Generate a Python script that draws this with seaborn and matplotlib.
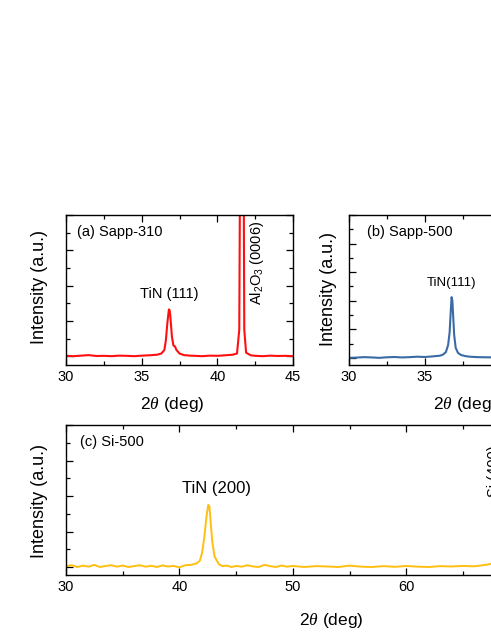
import numpy as np
import seaborn as sns
import matplotlib.pyplot as plt
from matplotlib.ticker import MultipleLocator

# (a) Sapp-310 : 2theta (deg) and intensity (a.u.)
a_theta = [30.0, 30.5, 31.0, 31.5, 32.0, 32.5, 33.0, 33.5, 34.0, 34.5, 35.0, 35.5,
           36.0, 36.3, 36.5, 36.6, 36.7, 36.8, 36.85, 36.9, 37.0, 37.1, 37.2, 37.3,
           37.5, 37.8, 38.2, 38.5, 39.0, 39.5, 40.0, 40.5, 41.0, 41.3, 41.45, 41.55,
           41.6, 41.65, 41.7, 41.78, 41.9, 42.2, 42.5, 43.0, 43.5, 44.0, 44.5, 45.0]
a_int = [0.02, 0.0, 0.03, 0.06, 0.01, 0.02, 0.0, 0.03, 0.02, 0.0, 0.03, 0.05,
         0.08, 0.15, 0.35, 0.9, 1.9, 2.65, 2.6, 2.2, 1.1, 0.6, 0.55, 0.35,
         0.15, 0.06, 0.03, 0.02, 0.0, 0.03, 0.02, 0.05, 0.08, 0.15, 1.5, 20.0,
         30.0, 30.0, 20.0, 1.5, 0.2, 0.05, 0.02, 0.0, 0.03, 0.01, 0.02, 0.0]

# (b) Sapp-500
b_theta = [30.0, 30.5, 31.0, 31.5, 32.0, 32.5, 33.0, 33.5, 34.0, 34.5, 35.0, 35.5,
           36.0, 36.2, 36.4, 36.55, 36.65, 36.72, 36.78, 36.83, 36.88, 36.95, 37.05,
           37.2, 37.4, 37.7, 38.0, 38.5, 39.0, 40.0, 41.0, 41.5, 41.65, 41.8, 42.5,
           43.5, 45.0]
b_int = [0.0, 0.02, 0.05, 0.03, 0.0, 0.04, 0.06, 0.03, 0.05, 0.08, 0.06, 0.1,
         0.15, 0.22, 0.4, 0.9, 1.8, 3.2, 4.25, 4.0, 3.0, 1.6, 0.7,
         0.35, 0.2, 0.12, 0.08, 0.05, 0.04, 0.03, 0.05, 2.0, 30.0, 2.0, 0.05,
         0.02, 0.0]

# (c) Si-500
c_theta = [30.0, 30.5, 31.0, 31.5, 32.0, 32.5, 33.0, 33.5, 34.0, 34.5, 35.0, 35.5,
           36.0, 36.5, 37.0, 37.5, 38.0, 38.5, 39.0, 39.5, 40.0, 40.5, 41.0, 41.5,
           41.8, 42.0, 42.2, 42.4, 42.55, 42.65, 42.75, 42.9, 43.1, 43.3, 43.5, 43.8,
           44.2, 44.6, 45.0, 45.5, 46.0, 46.5, 47.0, 47.5, 48.0, 48.5, 49.0, 49.5,
           50.0, 51.0, 52.0, 53.0, 54.0, 55.0, 56.0, 57.0, 58.0, 59.0, 60.0, 61.0,
           62.0, 63.0, 64.0, 65.0, 66.0, 67.0, 67.5, 68.0, 68.5, 68.9, 69.1, 69.3,
           69.7, 70.5, 72.0, 74.0, 76.0, 78.0, 80.0]
c_int = [0.05, 0.1, 0.0, 0.08, 0.02, 0.12, 0.0, 0.06, 0.1, 0.02, 0.08, 0.0,
         0.05, 0.1, 0.02, 0.07, 0.0, 0.09, 0.03, 0.06, -0.02, 0.1, 0.12, 0.2,
         0.35, 0.8, 1.7, 2.9, 3.5, 3.4, 2.6, 1.4, 0.6, 0.35, 0.15, 0.05,
         0.08, 0.0, 0.06, 0.02, 0.1, 0.03, 0.0, 0.12, 0.05, 0.0, 0.08, 0.02,
         0.06, 0.0, 0.05, 0.03, 0.0, 0.08, 0.02, 0.0, 0.05, 0.01, 0.06, 0.02,
         0.0, 0.05, 0.03, 0.06, 0.04, 0.12, 0.18, 0.5, 3.0, 20.0, 30.0, 20.0,
         1.0, 0.2, 0.08, 0.05, 0.03, 0.02, 0.0]

W, H = 491, 635

sns.set_style('ticks')
plt.rcParams['font.family'] = ['Liberation Sans', 'DejaVu Sans']
plt.rcParams['mathtext.fontset'] = 'custom'
plt.rcParams['mathtext.rm'] = 'Liberation Sans'
plt.rcParams['mathtext.it'] = 'Liberation Serif:italic'
plt.rcParams['axes.linewidth'] = 1.0
plt.rcParams['text.color'] = 'black'
plt.rcParams['axes.labelcolor'] = 'black'
plt.rcParams['xtick.color'] = 'black'
plt.rcParams['ytick.color'] = 'black'
plt.rcParams['axes.edgecolor'] = 'black'

fig = plt.figure(figsize=(W / 100, H / 100), dpi=100)


def px_axes(left, top, width, height):
    return fig.add_axes([left / W, (H - top - height) / H, width / W, height / H])


def style_axes(ax, xmaj, xmin):
    ax.xaxis.set_major_locator(MultipleLocator(xmaj))
    ax.xaxis.set_minor_locator(MultipleLocator(xmin))
    ax.yaxis.set_major_locator(MultipleLocator(2))
    ax.yaxis.set_minor_locator(MultipleLocator(1))
    ax.tick_params(which='both', direction='in', top=True, right=True,
                   labelleft=False, labelsize=10.5, width=0.9)
    ax.tick_params(which='major', length=5)
    ax.tick_params(which='minor', length=3)
    ax.set_xlabel(r'2$\theta$ (deg)', fontsize=12.5)
    ax.set_ylabel('Intensity (a.u.)', fontsize=13)


# panel (a)
ax_a = px_axes(66, 215, 227, 150)
sns.lineplot(x=a_theta, y=a_int, ax=ax_a, color='#ff1010', lw=1.5)
ax_a.set_xlim(30, 45)
ax_a.set_ylim(-0.5, 8.0)
style_axes(ax_a, 5, 2.5)
ax_a.xaxis.set_label_coords(0.47, -0.2)
ax_a.yaxis.set_label_coords(-0.08, 0.52)
ax_a.text(0.05, 0.86, '(a) Sapp-310', transform=ax_a.transAxes, fontsize=10.5)
ax_a.text(36.8, 3.15, 'TiN (111)', ha='center', va='bottom', fontsize=10.5)
ax_a.text(42.65, 5.3, r'Al$_\mathregular{2}$O$_\mathregular{3}$ (0006)', rotation=90,
          ha='center', va='center', fontsize=10.5)

# panel (b)
ax_b = px_axes(349, 215, 227, 150)
sns.lineplot(x=b_theta, y=b_int, ax=ax_b, color='#3a6ba5', lw=1.5)
ax_b.set_xlim(30, 45)
ax_b.set_ylim(-0.5, 10.0)
style_axes(ax_b, 5, 2.5)
ax_b.xaxis.set_label_coords(0.51, -0.2)
ax_b.yaxis.set_label_coords(-0.055, 0.51)
ax_b.text(0.08, 0.86, '(b) Sapp-500', transform=ax_b.transAxes, fontsize=10.5)
ax_b.text(36.8, 4.8, 'TiN(111)', ha='center', va='bottom', fontsize=9.5)

# panel (c)
ax_c = px_axes(66, 425, 567, 150)
sns.lineplot(x=c_theta, y=c_int, ax=ax_c, color='#ffbf10', lw=1.4)
ax_c.set_xlim(30, 80)
ax_c.set_ylim(-0.45, 8.0)
style_axes(ax_c, 10, 5)
ax_c.xaxis.set_label_coords(0.468, -0.24)
ax_c.yaxis.set_label_coords(-0.031, 0.49)
ax_c.text(0.025, 0.86, '(c) Si-500', transform=ax_c.transAxes, fontsize=10.5)
ax_c.text(43.3, 4.0, 'TiN (200)', ha='center', va='bottom', fontsize=12)
ax_c.text(67.7, 5.4, 'Si (400)', rotation=90, ha='center', va='center', fontsize=10.5)

fig.savefig('out.png', dpi=100)
